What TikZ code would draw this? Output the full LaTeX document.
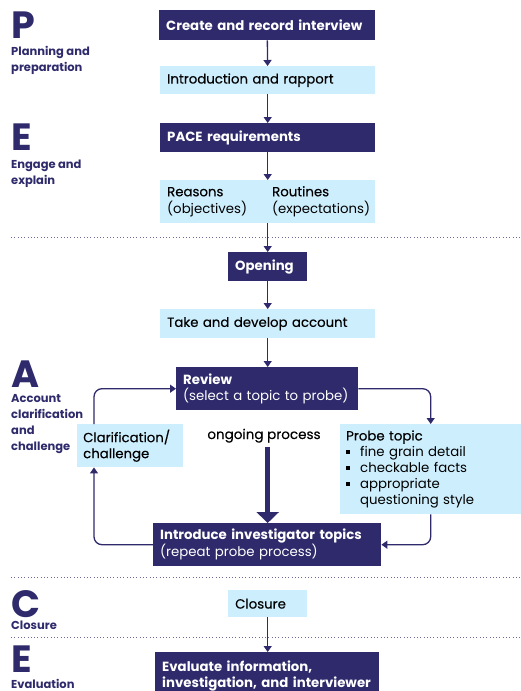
\documentclass[tikz,border=0pt]{standalone}
\usepackage{fontspec}
\setmainfont{Poppins}
\newfontfamily\midfont[FakeBold=0.3]{Poppins}
\usetikzlibrary{positioning, calc, arrows.meta}

\definecolor{navy}{RGB}{46,42,107}
\definecolor{sky}{RGB}{205,238,253}

\newcommand{\sqbullet}{\makebox[14pt][l]{\rule[2.5pt]{3.5pt}{3.5pt}}}
\newcommand{\hd}[1]{{\midfont #1}}

\tikzset{
    box/.style={anchor=north west, align=left, inner xsep=7pt, inner ysep=0pt,
        font=\fontsize{13.3}{16}\selectfont},
    darkbox/.style={box, fill=navy, text=white, font=\bfseries\fontsize{13.3}{16}\selectfont},
    lightbox/.style={box, fill=sky, text=black},
    flow/.style={navy, line width=1.3pt, rounded corners=8pt, -{Triangle[width=8pt,length=6pt]}},
    bigflow/.style={navy, line width=5pt, -{Triangle[width=22pt,length=11pt]}},
    sep/.style={navy!70, line width=0.9pt, dash pattern=on 0.9pt off 2.4pt},
    phase/.style={navy, anchor=base west, inner sep=0pt, font=\bfseries\fontsize{38}{38}\selectfont},
    phasetext/.style={navy, anchor=base west, inner sep=0pt, align=left,
        font=\bfseries\fontsize{11.5}{16}\selectfont},
}

\begin{document}
\begin{tikzpicture}[x=1pt, y=-1pt]
                \useasboundingbox (0,0) rectangle (521,691);

                \node[phase] (P)  at (11,38)  {P};
                \node[phasetext] (Ptext) at (11,71) {Planning and\\preparation};
                \node[phase] (E1) at (11,150) {E};
                \node[phasetext] (E1text) at (11,184) {Engage and\\explain};
                \node[phase] (A)  at (11,387) {A};
                \node[phasetext] (Atext) at (11,450) {Account\\clarification\\and\\challenge};
                \node[phase] (C)  at (11,617) {C};
                \node[phasetext] (Ctext) at (11,629) {Closure};
                \node[phase] (E2) at (11,672) {E};
                \node[phasetext] (E2text) at (11,688) {Evaluation};

                \draw[sep] (11,237) -- (521,237);
                \draw[sep] (11,577) -- (521,577);
                \draw[sep] (11,637) -- (521,637);

                \node[darkbox, text width=202pt, minimum height=30pt] (create) at (159,10) {Create and record interview};
                \node[lightbox, text width=201pt, minimum height=28pt] (intro) at (160,66) {\hd{Introduction and rapport}};
                \node[darkbox, text width=201pt, minimum height=29pt] (pace) at (160,123) {PACE requirements};
                \node[lightbox, text width=201pt, minimum height=43pt] (reasons) at (160,180)
                    {\begin{tabular}{@{}p{105pt}@{}l@{}}\hd{Reasons} & \hd{Routines}\\(objectives) & (expectations)\end{tabular}};
                \node[darkbox, text width=65pt, minimum height=29pt] (opening) at (228,252) {Opening};
                \node[lightbox, text width=201pt, minimum height=29pt] (take) at (160,309) {\hd{Take and develop account}};
                \node[darkbox, text width=168pt, minimum height=43pt] (review) at (176,367) {Review\\\mdseries(select a topic to probe)};
                \node[lightbox, text width=94pt, minimum height=43pt, inner xsep=6pt] (clar) at (77,424) {\hd{Clarification/}\\\hd{challenge}};
                \node[lightbox, text width=169pt, minimum height=90pt, inner xsep=6pt] (probe) at (340,424)
                    {\hd{Probe topic}\\\sqbullet fine grain detail\\\sqbullet checkable facts\\\sqbullet appropriate\\\hspace*{14pt}questioning style};
                \node[darkbox, text width=214pt, minimum height=43pt] (topics) at (153,523) {Introduce investigator topics\\\mdseries(repeat probe process)};
                \node[lightbox, text width=65pt, minimum height=27pt] (closure) at (228,590) {\hd{Closure}};
                \node[darkbox, text width=210pt, minimum height=47pt] (evaluate) at (155,652) {Evaluate information,\\investigation, and interviewer};

                \node[anchor=base, inner sep=0pt, font=\fontsize{13.5}{16}\selectfont] (ongoing) at (264,439) {\hd{ongoing process}};
                \coordinate (loop) at (94,0);

                \draw[flow] (create) -- (intro);
                \draw[flow] (intro) -- (pace);
                \draw[flow] (pace) -- (reasons);
                \draw[flow] (reasons) -- (opening);
                \draw[flow] (opening) -- (take);
                \draw[flow] (take) -- (take |- review.north);
                \draw[flow] (review.east) -| (probe.north);
                \draw[flow] (probe.south) |- (topics.east);
                \draw[flow] (topics.west) -| (clar.south -| loop);
                \draw[flow] (clar.north -| loop) |- (review.west);
                \draw[bigflow] ([yshift=-4pt]ongoing.south -| take.south) -- (take.south |- topics.north);
                \draw[flow] (closure) -- (evaluate.north -| closure.south);
\end{tikzpicture}
\end{document}
